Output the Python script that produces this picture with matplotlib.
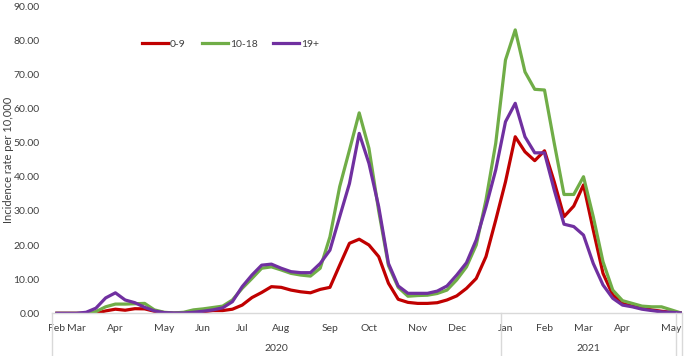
import matplotlib.pyplot as plt
from matplotlib.transforms import blended_transform_factory

plt.rcParams['font.family'] = ['Lato', 'DejaVu Sans']

# weekly incidence rate per 10,000, Feb 2020 - May 2021
age_0_9 = [0, 0, 0, 0, 0, 0.7, 1.2, 0.9, 1.35, 1.3,
           0.6, 0.2, 0.0, 0.1, 0.3, 0.5, 0.8, 0.8, 1.2, 2.4,
           4.6, 6.1, 7.8, 7.6, 6.8, 6.3, 6.0, 7.0, 7.6, 14.1,
           20.5, 21.7, 20.0, 16.6, 8.8, 4.1, 3.2, 2.9, 2.9, 3.1,
           3.9, 5.1, 7.3, 10.2, 16.6, 27.3, 38.5, 51.7, 47.3, 44.7,
           47.6, 38.5, 28.3, 31.4, 37.6, 24.4, 11.7, 5.4, 2.9, 2.1,
           1.5, 1.0, 0.6, 0.3, 0.1]
age_10_18 = [0, 0, 0, 0, 0.5, 1.9, 2.7, 2.7, 2.8, 2.9,
             1.0, 0.3, 0.1, 0.3, 1.0, 1.3, 1.7, 2.1, 3.9, 7.3,
             10.2, 13.2, 13.6, 12.7, 11.7, 11.2, 10.9, 13.2, 22.4, 37.1,
             47.8, 58.7, 48.3, 30.0, 14.0, 7.6, 5.0, 5.2, 5.3, 5.8,
             6.8, 9.8, 13.6, 20.0, 33.2, 49.8, 74.2, 83.0, 70.7, 65.6,
             65.4, 49.8, 34.8, 34.8, 40.0, 28.3, 15.1, 6.8, 3.7, 2.9,
             2.1, 1.9, 1.9, 1.0, 0.1]
age_19_plus = [0, 0, 0, 0.3, 1.5, 4.5, 6.0, 3.9, 3.1, 1.75,
               0.7, 0.2, 0.1, 0.1, 0.3, 0.6, 1.0, 1.6, 3.4, 7.8,
               11.2, 14.1, 14.4, 13.2, 12.2, 11.9, 11.9, 14.6, 18.5, 28.3,
               38.0, 52.7, 43.9, 31.2, 14.6, 8.0, 5.85, 5.85, 5.85, 6.5,
               8.0, 11.2, 14.8, 21.5, 31.2, 42.0, 56.1, 61.5, 51.7, 47.0,
               47.0, 36.1, 26.1, 25.4, 22.9, 14.6, 8.3, 4.4, 2.4, 1.9,
               1.2, 0.8, 0.4, 0.3, 0.1]

month_pos = [0, 2, 6, 11, 15, 19, 23, 28, 32, 37, 41, 46, 50, 54, 58, 63]
month_labels = ['Feb', 'Mar', 'Apr', 'May', 'Jun', 'Jul', 'Aug', 'Sep', 'Oct',
                'Nov', 'Dec', 'Jan', 'Feb', 'Mar', 'Apr', 'May']
years = ['2020', '2021']
year_bounds = [-0.5, 45.5, 63.5]

fig = plt.figure(figsize=(6.85, 3.56), dpi=100)
ax = fig.add_axes([52 / 685, 1 - 313.3 / 356, 630 / 685, 307.3 / 356])

x = list(range(len(age_0_9)))
ax.plot(x, age_0_9, color='#C00000', lw=2.3, label='0-9')
ax.plot(x, age_10_18, color='#70AD47', lw=2.3, label='10-18')
ax.plot(x, age_19_plus, color='#7030A0', lw=2.3, label='19+')

ax.set_xlim(-0.5, 64.1)
ax.set_ylim(0, 90)
ax.set_yticks(range(0, 91, 10))
ax.set_yticklabels([f'{v:.2f}' for v in range(0, 91, 10)], fontsize=7.5, color='#404040')
ax.tick_params(axis='y', length=0, pad=9)

ax.set_xticks(month_pos)
ax.set_xticklabels(month_labels, fontsize=7.5, color='#404040')
ax.tick_params(axis='x', length=0, pad=8)

for s in ['top', 'right', 'left']:
    ax.spines[s].set_visible(False)
ax.spines['bottom'].set_color('#d9d9d9')
ax.spines['bottom'].set_linewidth(1)

# year grouping separators and labels
tr = blended_transform_factory(ax.transData, ax.transAxes)
bottom = -42.7 / 307.3
for b in year_bounds + [64.1]:
    ax.plot([b, b], [0, bottom], transform=tr, color='#d9d9d9', lw=1, clip_on=False)
for i, yr in enumerate(years):
    xc = (year_bounds[i] + year_bounds[i + 1]) / 2
    ax.text(xc, -35.5 / 307.3, yr, transform=tr, ha='center', va='center',
            fontsize=7.5, color='#404040')

fig.text(9 / 685, 1 - 160 / 356, 'Incidence rate per 10,000', rotation=90,
         ha='center', va='center', fontsize=8, color='#404040')

ax.legend(loc='center left', bbox_to_anchor=(0.143, 0.876), ncol=3, frameon=False,
          fontsize=7.5, handlelength=2.5, handletextpad=0.2, columnspacing=1.5,
          borderpad=0, borderaxespad=0, labelcolor='#404040')

fig.savefig('out.png', dpi=100)
